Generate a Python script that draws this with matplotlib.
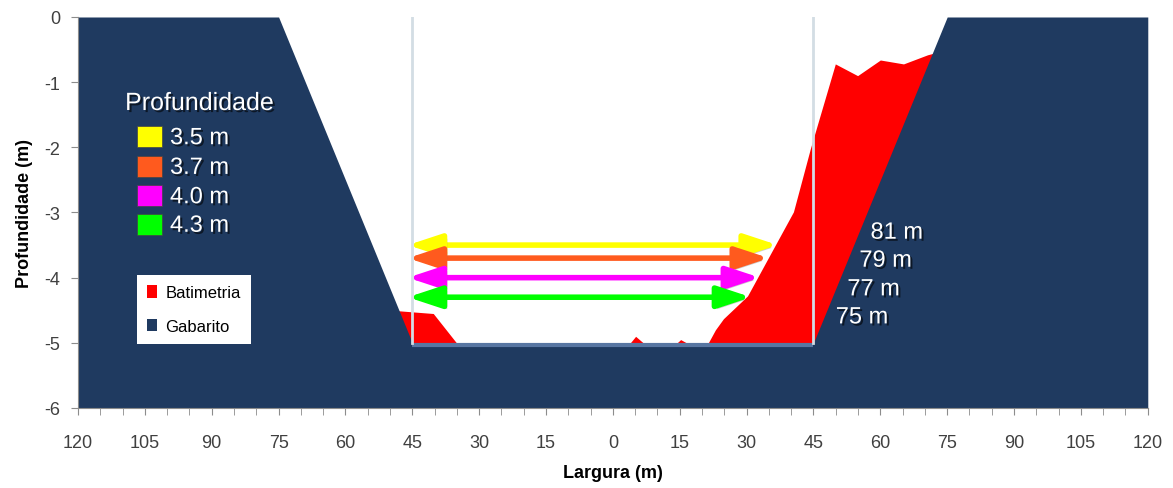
import numpy as np
import matplotlib.pyplot as plt
import matplotlib.patheffects as pe
from matplotlib.patches import Rectangle

plt.rcParams['axes.unicode_minus'] = False

# Perfil de projeto do canal (gabarito)
gabarito_x = [-120, -75, -45, 45, 75, 120]
gabarito_y = [0, 0, -5, -5, 0, 0]

# Batimetria levantada
bat_x = [-50, -47.7, -40.3, -35.1, 3.9, 5.1, 6.8, 14.4, 15.2, 16.5, 21.4, 23.0,
         24.8, 30.2, 40.5, 44.3, 49.9, 54.9, 60.0, 65.2, 70.6, 75, 80]
bat_y = [-4.5, -4.51, -4.55, -5.0, -5.0, -4.9, -5.0, -5.0, -4.95, -5.0, -5.0, -4.8,
         -4.63, -4.28, -2.99, -2.02, -0.72, -0.90, -0.66, -0.72, -0.58, -0.5, -0.5]

# Larguras navegaveis por profundidade
depths = [3.5, 3.7, 4.0, 4.3]
widths = [81, 79, 77, 75]
depth_colors = ['#ffff00', '#ff5a1e', '#ff00ff', '#00ff00']

# posicoes dos rotulos das larguras (x, y)
width_label_x = [57.8, 55.3, 52.6, 50.0]
width_label_y = [-3.31, -3.74, -4.18, -4.61]

navy = '#1f3a60'
red = '#ff0000'

fig = plt.figure(figsize=(11.73, 4.89), dpi=100)
ax = fig.add_axes([0.0665, 0.1636, 0.912, 0.7996])

ax.fill_between(bat_x, bat_y, -6, color=red, lw=0, zorder=1, label='Batimetria')
ax.fill_between(gabarito_x, gabarito_y, -6, color=navy, lw=0, zorder=2, label='Gabarito')

# fundo do canal e limites verticais
ax.plot(gabarito_x[2:4], [gabarito_y[2] - 0.03] * 2, color='#5876a2', lw=3,
        solid_capstyle='butt', zorder=3)
for xv in gabarito_x[2:4]:
    ax.plot([xv, xv], [0, gabarito_y[2]], color='#d3dde4', lw=2, zorder=3)

# setas de largura (pequena folga porque a ponta recua com a espessura)
left = gabarito_x[2]
tip_pad = 1.0
shadow = [pe.withSimplePatchShadow(offset=(2, -2), shadow_rgbFace='gray', alpha=0.4)]
for d, w, c in zip(depths, widths, depth_colors):
    ax.annotate('', xy=(left + w + tip_pad, -d), xytext=(left - tip_pad, -d),
                arrowprops=dict(arrowstyle='<|-|>,head_length=1.0,head_width=0.33',
                                color=c, lw=4, mutation_scale=20,
                                shrinkA=0, shrinkB=0, path_effects=shadow),
                zorder=4)

txt_shadow = [pe.withSimplePatchShadow(offset=(1.5, -1.5), shadow_rgbFace='black', alpha=0.6)]
for w, tx, ty in zip(widths, width_label_x, width_label_y):
    ax.text(tx, ty, f'{w} m', color='white', fontsize=17, family='Liberation Sans',
            ha='left', va='center', zorder=5, path_effects=txt_shadow)

# legenda das profundidades
ax.text(0.044, 0.78, 'Profundidade', transform=ax.transAxes, color='white',
        fontsize=18, family='Liberation Sans', ha='left', va='center', zorder=5,
        path_effects=txt_shadow)
row_y = [0.694, 0.618, 0.543, 0.470]
for d, c, ry in zip(depths, depth_colors, row_y):
    ax.add_patch(Rectangle((0.0555, ry - 0.027), 0.023, 0.054, transform=ax.transAxes,
                           facecolor=c, edgecolor='#444444', lw=0.5, zorder=5))
    ax.text(0.086, ry - 0.004, f'{d:.1f} m', transform=ax.transAxes, color='white',
            fontsize=17, family='Liberation Sans', ha='left', va='center', zorder=5,
            path_effects=txt_shadow)

leg = ax.legend(loc='upper left', bbox_to_anchor=(0.055, 0.34), borderaxespad=0,
                fancybox=False, framealpha=1, edgecolor='white',
                prop={'family': 'Liberation Sans', 'size': 12},
                handlelength=0.6, handleheight=0.8, handletextpad=0.5,
                labelspacing=1.1, borderpad=0.6)
leg.get_frame().set_linewidth(0)
leg.set_zorder(6)

ax.set_xlim(-120, 120)
ax.set_ylim(-6, 0)
xt = np.arange(-120, 121, 15)
ax.set_xticks(xt)
ax.set_xticklabels([str(abs(v)) for v in xt])
ax.set_xticks(np.arange(-120, 121, 5), minor=True)
ax.set_yticks(np.arange(-6, 1, 1))

for s in ['top', 'right']:
    ax.spines[s].set_visible(False)
for s in ['left', 'bottom']:
    ax.spines[s].set_color('#8c8c8c')

ax.tick_params(axis='both', which='both', direction='out', length=5, color='#8c8c8c',
               labelcolor='#404040', labelsize=13)
ax.tick_params(axis='x', which='major', pad=14)
ax.tick_params(axis='y', pad=8)
for lab in ax.get_xticklabels() + ax.get_yticklabels():
    lab.set_family('Liberation Sans')

ax.set_xlabel('Largura (m)', fontsize=13, fontweight='bold', family='Liberation Sans',
              labelpad=9)
ax.set_ylabel('Profundidade (m)', fontsize=13, fontweight='bold', family='Liberation Sans',
              labelpad=8)

fig.savefig('out.png', dpi=100)
